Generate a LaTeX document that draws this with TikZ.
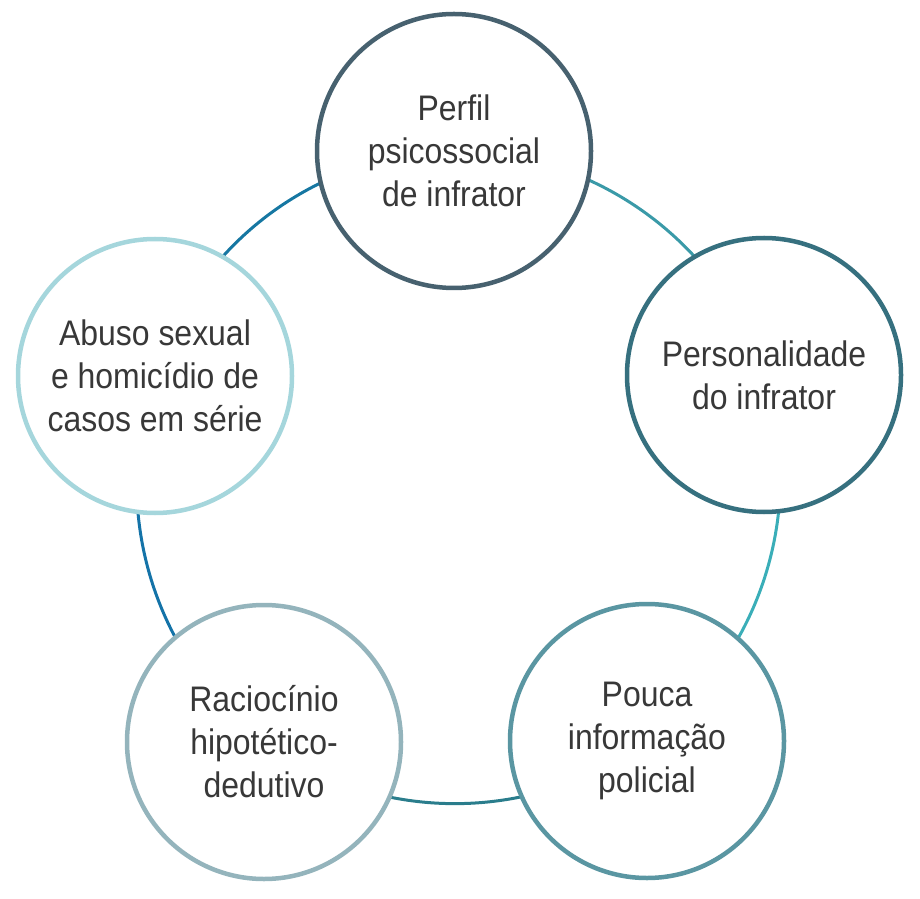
\documentclass[tikz,border=0pt]{standalone}
\usepackage{fontspec}
\setmainfont{Liberation Sans}[FakeStretch=0.9]
\usetikzlibrary{backgrounds}

\definecolor{cPerfil}{HTML}{47616F}
\definecolor{cPersonal}{HTML}{36707F}
\definecolor{cPouca}{HTML}{5A96A2}
\definecolor{cRacioc}{HTML}{94B4BC}
\definecolor{cAbuso}{HTML}{A5D6DC}
\definecolor{eloA}{HTML}{1677A2}
\definecolor{eloB}{HTML}{3A9AA8}
\definecolor{eloC}{HTML}{3AAEB8}
\definecolor{eloD}{HTML}{2A7D8C}
\definecolor{eloE}{HTML}{1473A8}
\definecolor{texto}{HTML}{383838}

\tikzset{
  etapa/.style={circle,draw,line width=4.5pt,fill=white,minimum size=274pt,
    inner sep=0pt,align=center,text=texto,font=\fontsize{35.5}{43}\selectfont},
  elo/.style={line width=3pt,bend left=36,looseness=0.94}
}

\begin{document}
\begin{tikzpicture}[x=1pt,y=1pt]
      \useasboundingbox (0,0) rectangle (920,898);
      %% the five steps
      \node[etapa,draw=cPerfil]   (perfil)   at (454,747) {Perfil\\psicossocial\\de infrator};
      \node[etapa,draw=cPersonal] (personal) at (764,523) {Personalidade\\do infrator};
      \node[etapa,draw=cPouca]    (pouca)    at (647,157) {Pouca\\informação\\policial};
      \node[etapa,draw=cRacioc]   (racioc)   at (264,156) {Raciocínio\\hipotético-\\dedutivo};
      \node[etapa,draw=cAbuso]    (abuso)    at (155,522) {Abuso sexual\\e homicídio de\\casos em série};

      %%%%%%% ring behind the circles
      \begin{scope}[on background layer]
        \draw[elo,eloA] (abuso.center)    to (perfil.center);
        \draw[elo,eloB] (perfil.center)   to (personal.center);
        \draw[elo,eloC] (personal.center) to (pouca.center);
        \draw[elo,eloD] (pouca.center)    to (racioc.center);
        \draw[elo,eloE] (racioc.center)   to (abuso.center); % closes the ring
      \end{scope}
    \end{tikzpicture}
\end{document}
